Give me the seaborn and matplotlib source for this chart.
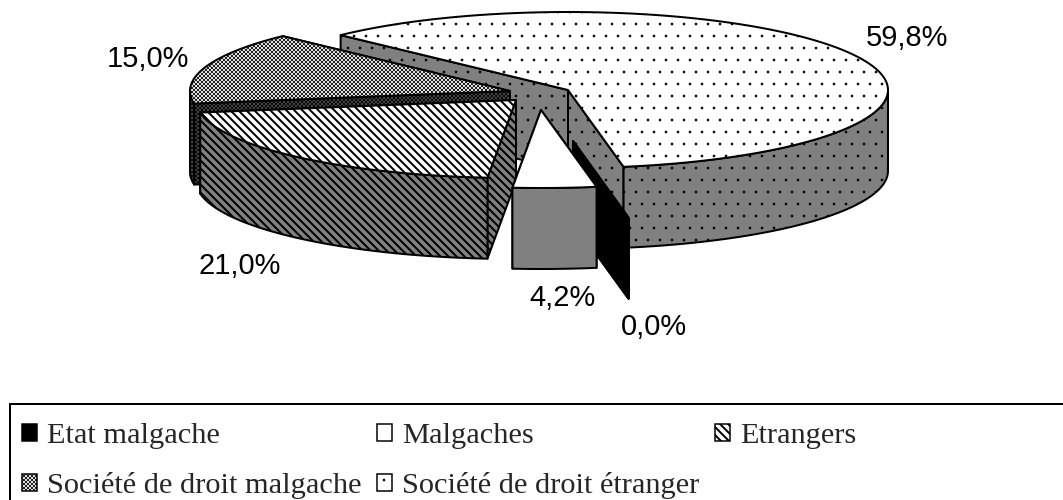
import numpy as np
import seaborn as sns
import matplotlib.pyplot as plt
from matplotlib.patches import Polygon, Patch, Rectangle

# parts du capital
noms = ["Etat malgache", "Malgaches", "Etrangers", "Société de droit malgache", "Société de droit étranger"]
parts = [0.0, 4.2, 21.0, 15.0, 59.8]
etiquettes = ["0,0%", "4,2%", "21,0%", "15,0%", "59,8%"]

# style de chaque part : dessus, flanc, hachure
couleur_dessus = ["black", "white", "white", "white", "white"]
couleur_flanc = ["black", "#808080", "#808080", "#4d4d4d", "#808080"]
hachures = [None, None, "\\\\\\", "xxxxxx", "."]
epaisseur_hachure = [1, 1, 2.0, 0.7, 0.2]

# position de la pointe de chaque part éclatée, et des étiquettes (pixels)
pointe_x = [573, 541, 516, 510, 568]
pointe_y = [141, 110, 100, 91, 90]
etiq_x = [654, 562, 240, 148, 907]
etiq_y = [327, 298, 266, 59, 38]

rx, ry = 320, 78
epaisseur = 81
angle_depart = -80

sns.set_theme(style="white")

fig = plt.figure(figsize=(1063 / 72, 500 / 72), dpi=72)
ax = fig.add_axes([0, 0, 1, 1])
ax.set_xlim(0, 1063)
ax.set_ylim(500, 0)
ax.axis("off")


def bord(cx, cy, a):
    a = np.radians(a)
    return np.column_stack([cx + rx * np.cos(a), cy - ry * np.sin(a)])


def poly(pts, fc, i):
    p = Polygon(pts, closed=True, facecolor=fc, edgecolor="black", hatch=hachures[i], linewidth=2, joinstyle="round")
    p.set_hatch_linewidth(epaisseur_hachure[i])
    ax.add_patch(p)


# les parts tournent dans le sens horaire
fins = angle_depart - np.cumsum(parts) * 3.6
debuts = np.append(angle_depart, fins[:-1])
bas = np.array([0, epaisseur])

for i in [4, 3, 0, 2, 1]:
    cx, cy = pointe_x[i], pointe_y[i]
    a0, a1 = debuts[i], fins[i]
    centre = np.array([[cx, cy]])
    # flancs droits, celui du fond d'abord
    for a in sorted((a0, a1), key=lambda v: -np.sin(np.radians(v))):
        pts = np.vstack([centre, bord(cx, cy, np.array([a]))])
        poly(np.vstack([pts, pts[::-1] + bas]), couleur_flanc[i], i)
    # flanc extérieur, seulement la moitié avant
    angles = np.linspace(a0, a1, 120)
    avant = angles[np.sin(np.radians(angles)) < 0]
    if len(avant) > 1:
        pts = bord(cx, cy, avant)
        poly(np.vstack([pts, pts[::-1] + bas]), couleur_flanc[i], i)
    # dessus
    poly(np.vstack([centre, bord(cx, cy, angles)]), couleur_dessus[i], i)

for x, y, t in zip(etiq_x, etiq_y, etiquettes):
    ax.text(x, y, t, ha="center", va="center", fontsize=29, family="Liberation Sans", color="black")

# cadre de la légende : il sort de l'image à droite et en bas
ax.add_patch(Rectangle((10, 404), 1100, 120, facecolor="white", edgecolor="black", linewidth=2, zorder=3))

# légende : matplotlib remplit par colonne
ordre = [0, 3, 1, 4, 2]
poignees = [Patch(facecolor=couleur_dessus[i], edgecolor="black", hatch=hachures[i], linewidth=1.5) for i in ordre]
leg = ax.legend(poignees, [noms[i] for i in ordre], ncol=3, loc="upper left",
                bbox_to_anchor=(22 / 1063, 1 - 423 / 500), borderaxespad=0, borderpad=0,
                frameon=False, prop={"family": "Liberation Serif", "size": 30.4},
                handlelength=0.5, handleheight=0.5, handletextpad=0.33,
                columnspacing=0.5, labelspacing=0.77)
leg.set_zorder(4)
for p, i in zip(leg.get_patches(), ordre):
    p.set_hatch_linewidth(epaisseur_hachure[i])

fig.savefig("out.png", dpi=72)
